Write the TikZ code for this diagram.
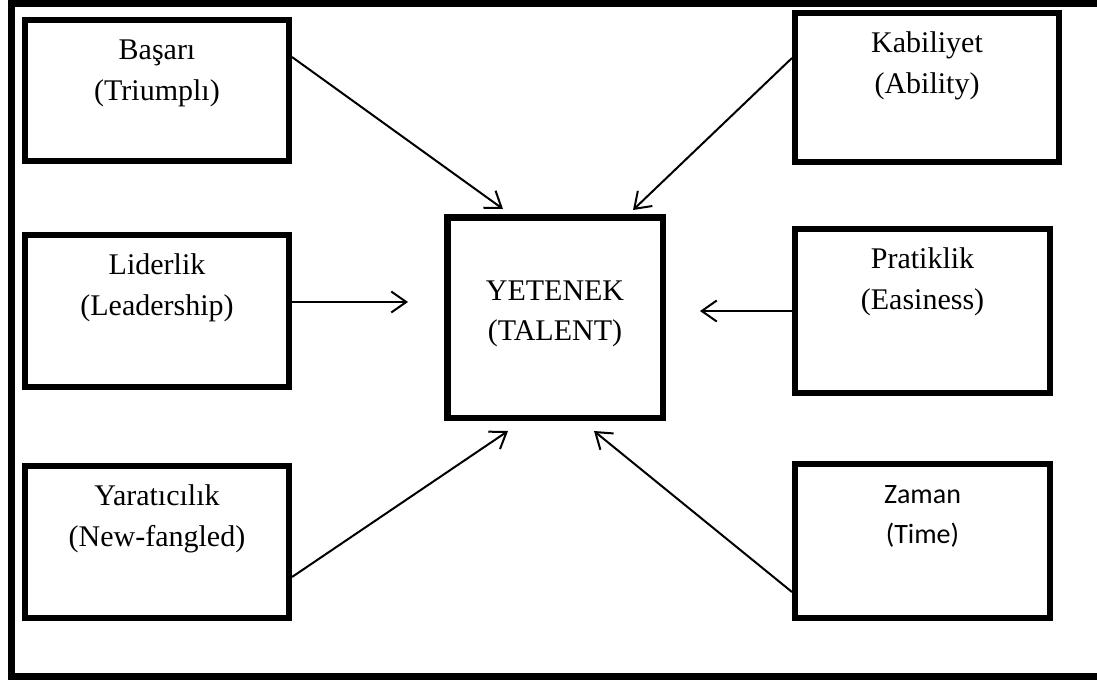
\documentclass[tikz,border=0pt]{standalone}
\usepackage{fontspec}
\setmainfont{Liberation Serif}
\newfontfamily\calibrifont{Carlito}
\usepackage{tikz}
\usetikzlibrary{arrows.meta}
\usetikzlibrary{positioning}
\usetikzlibrary{calc}

\newcommand{\factorfont}{\fontsize{30}{41}\selectfont}
\newcommand{\talentfont}{\fontsize{30}{40}\selectfont}
\newcommand{\timefont}{\calibrifont\fontsize{28}{40}\selectfont}

\begin{document}
\begin{tikzpicture}[x=1pt, y=-1pt,
        factor/.style={draw,
        line width=6pt,
        inner sep=0pt,
        text width=250pt,
        minimum width=264pt,
        text height=39pt,
        align=center,
        font=\factorfont},
        talent/.style={draw,
        line width=6.5pt,
        inner sep=0pt,
        text width=200pt,
        minimum width=215.5pt,
        text height=82.75pt,
        text depth=117.75pt,
        align=center,
        font=\talentfont},
        link/.style={line width=2pt, ->},
        >={Straight Barb[length=15pt, width=21pt]}]
        \useasboundingbox (0,0) rectangle (1097,681);
        \draw[line width=7pt] (11.5,3.5) rectangle (1101,676.5);
        % left column
        \node[factor, text depth=102pt, anchor=north west] at (22,17) (basari) {Başarı\\(Triumplı)};
        \node[factor, text depth=113pt, anchor=north west] at (22,232) (liderlik) {Liderlik\\(Leadership)};
        \node[factor, text depth=113pt, anchor=north west] at (22,463) (yaraticilik) {Yaratıcılık\\(New-fangled)};
        % right column
        \node[factor, text depth=110pt, anchor=north west] at (792,10) (kabiliyet) {Kabiliyet\\(Ability)};
        \node[factor, text depth=125pt, minimum width=255pt, anchor=north west] at (792,226) (pratiklik) {Pratiklik\\(Easiness)};
        \node[factor, text depth=115pt, minimum width=255pt, font=\timefont, anchor=north west] at (792,461) (zaman) {Zaman\\(Time)};
        % centre
        \node[talent, anchor=north west] at (444,214) (yetenek) {YETENEK\\(TALENT)};
        \coordinate (basari tip) at (503,209);
        \coordinate (kabiliyet tip) at (633,210);
        \coordinate (liderlik tip) at (408,302);
        \coordinate (pratiklik tip) at (700,311);
        \coordinate (yaraticilik tip) at (508,431);
        \coordinate (zaman tip) at (594,431);
        \draw[link] ([yshift=-40pt]basari.north east) -- (basari tip);
        \draw[link] ([yshift=-48pt]kabiliyet.north west) -- (kabiliyet tip);
        \draw[link] ([yshift=-70pt]liderlik.north east) -- (liderlik tip);
        \draw[link] ([yshift=-85pt]pratiklik.north west) -- (pratiklik tip);
        \draw[link] ([yshift=-114pt]yaraticilik.north east) -- (yaraticilik tip);
        \draw[link] ([yshift=-131pt]zaman.north west) -- (zaman tip);
    \end{tikzpicture}
\end{document}
